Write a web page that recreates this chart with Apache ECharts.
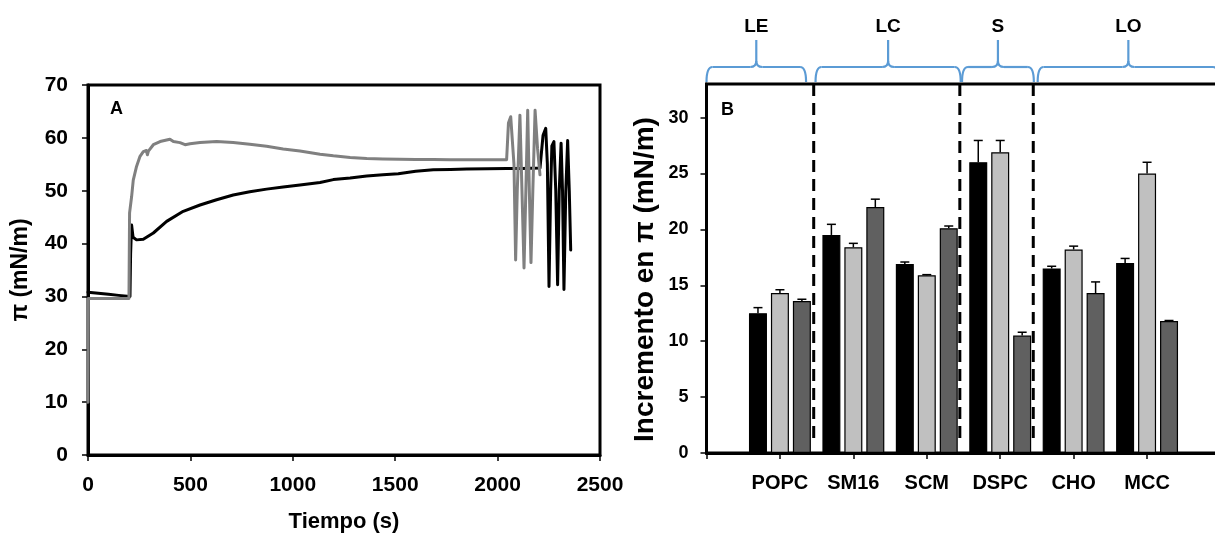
<!DOCTYPE html>
<html><head><meta charset="utf-8">
<script src="https://cdn.jsdelivr.net/npm/echarts@6/dist/echarts.min.js"></script>
<style>html,body{margin:0;padding:0;background:#fff}#c{width:1215px;height:533px}</style>
</head><body><div id="c"></div>
<script>
// ---------- Panel A data: surface pressure vs time ----------
const timeBlack = [0, 50, 100, 150, 205, 208, 213, 220, 237, 270, 319, 384, 465, 547, 628, 709, 790, 872, 953, 1035, 1133, 1198, 1280, 1361, 1440, 1515, 1520, 1600, 1686, 1770, 1849, 1950, 2044, 2120, 2207, 2222, 2235, 2243, 2251, 2259, 2265, 2275, 2284, 2293, 2301, 2310, 2317, 2324, 2333, 2342, 2350, 2357];
const piBlack = [30.8, 30.6, 30.4, 30.2, 30.0, 38.0, 43.5, 41.2, 40.7, 40.8, 42.0, 44.2, 46.1, 47.3, 48.3, 49.2, 49.8, 50.3, 50.7, 51.1, 51.55, 52.1, 52.4, 52.8, 53.0, 53.2, 53.5, 53.7, 53.95, 54.0, 54.1, 54.15, 54.2, 54.2, 54.3, 60.5, 61.8, 55.0, 31.9, 50.0, 58.5, 59.3, 50.0, 32.2, 50.0, 59.0, 50.0, 31.3, 50.0, 59.5, 50.0, 38.8];
const timeGray = [0, 2, 100, 200, 203, 213, 221, 237, 254, 270, 285, 290, 295, 319, 352, 400, 417, 449, 474, 498, 547, 628, 709, 790, 872, 953, 1035, 1133, 1198, 1280, 1361, 1440, 1523, 1600, 1686, 1770, 1849, 1950, 2044, 2050, 2053, 2064, 2072, 2080, 2088, 2096, 2109, 2119, 2129, 2138, 2147, 2155, 2163, 2172, 2183, 2195, 2207];
const piGray = [10.0, 29.6, 29.6, 29.6, 45.8, 48.9, 52.0, 54.6, 56.5, 57.4, 57.6, 56.8, 57.5, 58.7, 59.3, 59.75, 59.3, 59.1, 58.7, 58.9, 59.1, 59.3, 59.1, 58.8, 58.4, 57.9, 57.5, 56.9, 56.6, 56.3, 56.1, 56.0, 55.95, 55.9, 55.9, 55.85, 55.85, 55.85, 55.85, 56.0, 62.8, 64.0, 64.0, 55.0, 36.9, 50.0, 64.3, 50.0, 35.4, 50.0, 65.2, 50.0, 36.4, 50.0, 65.2, 58.0, 53.0];
const xTicksA = [0, 500, 1000, 1500, 2000, 2500];
const yTicksA = [0, 10, 20, 30, 40, 50, 60, 70];

// ---------- Panel B data: increase in pressure per lipid ----------
const lipids = ['POPC', 'SM16', 'SCM', 'DSPC', 'CHO', 'MCC'];
const incBlack = [12.5, 19.5, 16.9, 26.0, 16.5, 17.0];
const errBlack = [0.5, 0.95, 0.18, 1.95, 0.2, 0.4];
const incLight = [14.3, 18.4, 15.9, 26.9, 18.2, 25.0];
const errLight = [0.3, 0.35, 0.05, 1.05, 0.3, 1.0];
const incDark = [13.6, 22.0, 20.1, 10.5, 14.3, 11.8];
const errDark = [0.15, 0.7, 0.2, 0.3, 1.0, 0.05];
const yTicksB = [0, 5, 10, 15, 20, 25, 30];
const phaseNames = ['LE', 'LC', 'S', 'LO'];
const phaseStart = [0.0, 1.485, 3.48, 4.51];   // category units
const phaseEnd = [1.356, 3.462, 4.458, 6.98];
const separatorsAt = [1.46, 3.45, 4.45];

// ---------- style constants ----------
const FONT = 'Liberation Sans';
const BAR_W = 18, BAR_GAP = 0.22;
const BRACE_COLOR = '#5B9BD5';
const yMaxB = 33;

const catAxisData = [''].concat(lipids, ['']);
const pad = arr => ['-'].concat(arr, ['-']);
const barSeries = [
  {vals: incBlack, errs: errBlack, color: '#000000'},
  {vals: incLight, errs: errLight, color: '#c0c0c0'},
  {vals: incDark, errs: errDark, color: '#606060'}
];

function catX(api, f) {
  const p0 = api.coord([0, 0]), p1 = api.coord([1, 0]);
  return p0[0] + f * (p1[0] - p0[0]);
}

function errorItem(params, api) {
  const s = Math.floor(params.dataIndex / lipids.length);
  const c = params.dataIndex % lipids.length;
  const v = barSeries[s].vals[c], e = barSeries[s].errs[c];
  const base = api.coord([c + 1, v]);
  const top = api.coord([c + 1, v + e]);
  const x = base[0] + (s - 1) * (BAR_W * (1 + BAR_GAP));
  const st = {stroke: '#000', lineWidth: 1.5};
  return {type: 'group', children: [
    {type: 'line', shape: {x1: x, y1: base[1], x2: x, y2: top[1]}, style: st},
    {type: 'line', shape: {x1: x - 4.5, y1: top[1], x2: x + 4.5, y2: top[1]}, style: st}
  ]};
}

function sepItem(params, api) {
  const f = separatorsAt[params.dataIndex];
  const x = catX(api, f);
  const yTop = api.coord([0, yMaxB])[1];
  const yBot = api.coord([0, 1])[1];
  return {type: 'line', shape: {x1: x, y1: yTop, x2: x, y2: yBot},
    style: {stroke: '#000', lineWidth: 3, lineDash: [12, 7]}};
}

function braceItem(params, api) {
  const i = params.dataIndex;
  const xa = catX(api, phaseStart[i]), xb = catX(api, phaseEnd[i]), xc = (xa + xb) / 2;
  const y0 = api.coord([0, yMaxB])[1];
  const yB = y0 - 2, yH = y0 - 17, yT = y0 - 44, r = 6;
  const st = {stroke: BRACE_COLOR, lineWidth: 2.2, fill: null};
  const bz = (x1, y1, cx, cy, x2, y2) => ({type: 'bezierCurve', shape: {x1, y1, cpx1: cx, cpy1: cy, x2, y2}, style: st});
  const ln = (x1, y1, x2, y2) => ({type: 'line', shape: {x1, y1, x2, y2}, style: st});
  return {type: 'group', children: [
    bz(xa, yB, xa, yH, xa + r, yH),
    ln(xa + r, yH, xc - r, yH),
    bz(xc - r, yH, xc, yH, xc, yH - r),
    ln(xc, yH - r, xc, yT),
    bz(xc, yH - r, xc, yH, xc + r, yH),
    ln(xc + r, yH, xb - r, yH),
    bz(xb - r, yH, xb, yH, xb, yB),
    {type: 'text', style: {text: phaseNames[i], x: xc, y: yT - 13, align: 'center', verticalAlign: 'middle',
      font: 'bold 19px "Liberation Sans"', fill: '#000'}}
  ]};
}

const axisLbl = size => ({fontFamily: FONT, fontWeight: 'bold', fontSize: size, color: '#000'});

const option = {
  animation: false,
  backgroundColor: '#fff',
  grid: [
    {left: 88, top: 85, width: 512, height: 370, show: true, borderColor: '#000', borderWidth: 3,
      containLabel: false, outerBoundsMode: 'none'},
    {left: 706.5, top: 84, width: 514, height: 369, show: true, borderColor: '#000', borderWidth: 3,
      containLabel: false, outerBoundsMode: 'none'}
  ],
  xAxis: [
    {type: 'value', gridIndex: 0, min: xTicksA[0], max: xTicksA[xTicksA.length - 1], interval: 500,
      splitLine: {show: false},
      axisLine: {lineStyle: {color: '#000', width: 3}},
      axisTick: {length: 6, lineStyle: {color: '#000', width: 1.5}},
      axisLabel: Object.assign(axisLbl(21), {margin: 20, formatter: v => String(v)}),
      name: 'Tiempo (s)', nameLocation: 'middle', nameGap: 56,
      nameTextStyle: {fontFamily: FONT, fontWeight: 'bold', fontSize: 22, color: '#000'}},
    {type: 'category', gridIndex: 1, data: catAxisData, boundaryGap: false,
      axisLine: {lineStyle: {color: '#000', width: 3}},
      axisTick: {length: 6, lineStyle: {color: '#000', width: 1.5}, interval: 0},
      axisLabel: Object.assign(axisLbl(20), {margin: 20, interval: 0})}
  ],
  yAxis: [
    {type: 'value', gridIndex: 0, min: yTicksA[0], max: yTicksA[yTicksA.length - 1], interval: 10,
      splitLine: {show: false},
      axisLine: {show: true, lineStyle: {color: '#000', width: 3}},
      axisTick: {show: true, length: 6, lineStyle: {color: '#000', width: 1.5}},
      axisLabel: Object.assign(axisLbl(21), {margin: 20}),
      name: 'π (mN/m)', nameLocation: 'middle', nameGap: 56,
      nameTextStyle: {fontFamily: FONT, fontWeight: 'bold', fontSize: 23, color: '#000'}},
    {type: 'value', gridIndex: 1, min: 0, max: yMaxB, interval: 5,
      splitLine: {show: false},
      axisLine: {show: true, lineStyle: {color: '#000', width: 3}},
      axisTick: {show: true, length: 6, lineStyle: {color: '#000', width: 1.5}, customValues: yTicksB},
      axisLabel: Object.assign(axisLbl(18), {margin: 18, customValues: yTicksB,
        formatter: v => (yTicksB.indexOf(v) >= 0 ? String(v) : '')}),
      name: 'Incremento en π (mN/m)', nameLocation: 'middle', nameGap: 47,
      nameTextStyle: {fontFamily: FONT, fontWeight: 'bold', fontSize: 28, color: '#000', padding: [0, 22, 0, 0]}}
  ],
  series: [
    {type: 'line', xAxisIndex: 0, yAxisIndex: 0, showSymbol: false, symbol: 'none',
      data: timeBlack.map((t, i) => [t, piBlack[i]]),
      lineStyle: {color: '#000', width: 3, join: 'round', cap: 'round'}},
    {type: 'line', xAxisIndex: 0, yAxisIndex: 0, showSymbol: false, symbol: 'none',
      data: timeGray.map((t, i) => [t, piGray[i]]),
      lineStyle: {color: '#808080', width: 3, join: 'round', cap: 'round'}},
    ...barSeries.map(b => ({type: 'bar', xAxisIndex: 1, yAxisIndex: 1, data: pad(b.vals),
      barWidth: BAR_W, barGap: (BAR_GAP * 100) + '%',
      itemStyle: {color: b.color, borderColor: '#000', borderWidth: 1.2}})),
    {type: 'custom', xAxisIndex: 1, yAxisIndex: 1, renderItem: errorItem, clip: false, z: 5,
      data: barSeries.flatMap((b, s) => lipids.map((l, c) => [c + 1, b.vals[c]]))},
    {type: 'custom', xAxisIndex: 1, yAxisIndex: 1, renderItem: sepItem, clip: false, z: 4,
      data: separatorsAt.map(() => [0, 0])},
    {type: 'custom', xAxisIndex: 1, yAxisIndex: 1, renderItem: braceItem, clip: false, z: 6,
      data: phaseNames.map(() => [0, 0])}
  ],
  graphic: [
    {type: 'text', left: 110, top: 100, style: {text: 'A', font: 'bold 18px "Liberation Sans"', fill: '#000'}},
    {type: 'text', left: 721, top: 101, style: {text: 'B', font: 'bold 18px "Liberation Sans"', fill: '#000'}}
  ]
};

const chart = echarts.init(document.getElementById('c'), null, {renderer: 'canvas'});
chart.setOption(option);
</script>
</body></html>
